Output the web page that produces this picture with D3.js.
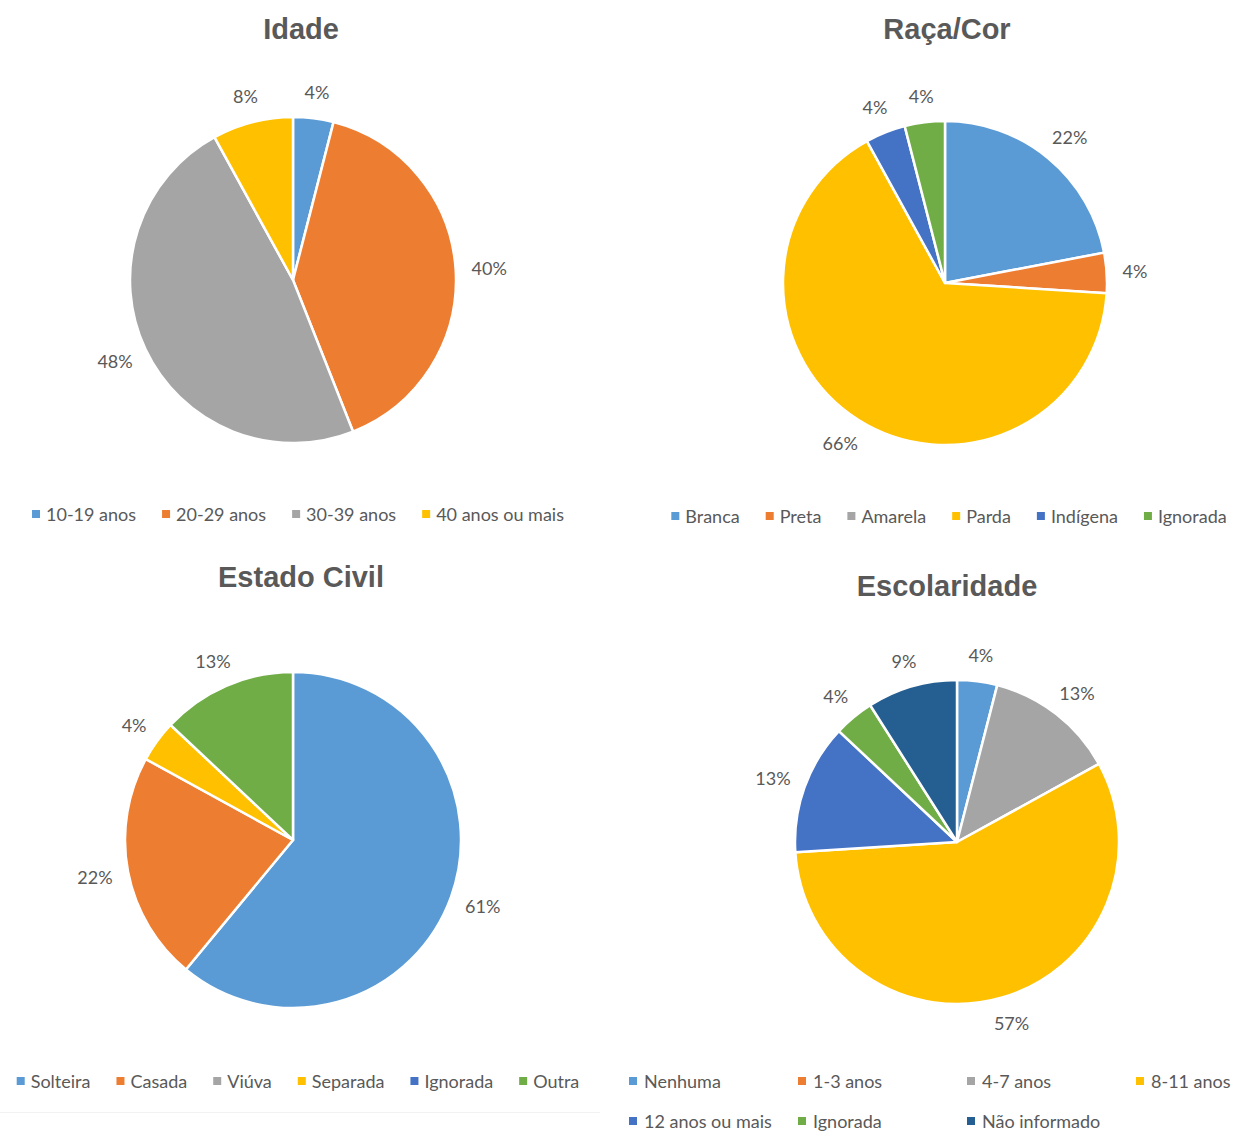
<!DOCTYPE html>
<html><head><meta charset="utf-8">
<script src="https://cdn.jsdelivr.net/npm/d3@7"></script>
<style>
body{margin:0;background:#fff;}
svg{display:block;}
</style></head>
<body>
<svg id="c" width="1240" height="1131"></svg>
<script>
// ---- data ----
const idadeCats = ["10-19 anos","20-29 anos","30-39 anos","40 anos ou mais"];
const idadeVals = [4,40,48,8];
const racaCats = ["Branca","Preta","Amarela","Parda","Indígena","Ignorada"];
const racaVals = [22,4,0,66,4,4];
const civilCats = ["Solteira","Casada","Viúva","Separada","Ignorada","Outra"];
const civilVals = [61,22,0,4,0,13];
const escCats = ["Nenhuma","1-3 anos","4-7 anos","8-11 anos","12 anos ou mais","Ignorada","Não informado"];
const escVals = [4,0,13,57,13,4,9];
const titles = ["Idade","Raça/Cor","Estado Civil","Escolaridade"];

const palette = ["#5B9BD5","#ED7D31","#A5A5A5","#FFC000","#4472C4","#70AD47","#255E91"];

const svg = d3.select("#c");
const lblFont = "Lato, 'Open Sans', sans-serif";
const txtColor = "#595959";

// faint frame line at bottom-left
svg.append("line").attr("x1",0).attr("x2",600).attr("y1",1112.5).attr("y2",1112.5)
  .attr("stroke","#f2f2f2").attr("stroke-width",1);

const charts = [
  {title:titles[0], cats:idadeCats, vals:idadeVals, cx:293, cy:280, r:163, tx:301, ty:29, legend:{type:"flow", cx:298, y:514}},
  {title:titles[1], cats:racaCats, vals:racaVals, cx:945, cy:283, r:162, tx:947, ty:29, legend:{type:"flow", cx:949, y:516}},
  {title:titles[2], cats:civilCats, vals:civilVals, cx:293, cy:840, r:168, tx:301, ty:577, legend:{type:"flow", cx:298, y:1081}},
  {title:titles[3], cats:escCats, vals:escVals, cx:957, cy:842, r:162, tx:947, ty:586, legend:{type:"grid", x0:629, colW:169, cols:4, y:1081, rowH:40}}
];

charts.forEach(ch => {
  const g = svg.append("g");
  g.append("text").attr("x", ch.tx)
    .attr("y", ch.ty).attr("text-anchor","middle").attr("dominant-baseline","central")
    .attr("font-family","'Liberation Sans', Arial, sans-serif").attr("font-weight","bold")
    .attr("font-size",29).attr("fill",txtColor).text(ch.title);

  const data = ch.cats.map((c,i)=>({cat:c, val:ch.vals[i], color:palette[i]}));
  const pie = d3.pie().sort(null).value(d=>d.val);
  const arcs = pie(data);
  const arc = d3.arc().innerRadius(0).outerRadius(ch.r);
  const pg = g.append("g").attr("transform",`translate(${ch.cx},${ch.cy})`);
  pg.selectAll("path").data(arcs.filter(a=>a.data.val>0)).join("path")
    .attr("d",arc).attr("fill",d=>d.data.color)
    .attr("stroke","#fff").attr("stroke-width",2.5).attr("stroke-linejoin","round");

  // labels outside end
  arcs.filter(a=>a.data.val>0).forEach(a=>{
    const th = (a.startAngle+a.endAngle)/2;
    const t = pg.append("text").attr("font-family",lblFont).attr("font-size",18)
      .attr("fill",txtColor).attr("text-anchor","middle").attr("dominant-baseline","central")
      .text(a.data.val+"%");
    const bb = t.node().getBBox();
    const off = ch.r + 16;
    const sx = Math.sin(th), cy = -Math.cos(th);
    const x = off*sx + bb.width/2*sx;
    const y = off*cy + (bb.height/2)*cy;
    t.attr("x",x).attr("y",y);
  });

  // legend
  const lg = g.append("g");
  if (ch.legend.type==="flow"){
    let x = 0;
    data.forEach(d=>{
      const it = lg.append("g");
      it.append("rect").attr("x",0).attr("y",-4).attr("width",8).attr("height",8).attr("fill",d.color);
      const t = it.append("text").attr("x",14).attr("y",0).attr("dominant-baseline","central")
        .attr("font-family",lblFont).attr("font-size",18).attr("fill",txtColor).text(d.cat);
      const w = 14 + t.node().getComputedTextLength();
      it.attr("transform",`translate(${x},${ch.legend.y})`);
      x += w + 26;
    });
    const total = x - 26;
    lg.attr("transform",`translate(${ch.legend.cx - total/2},0)`);
  } else {
    data.forEach((d,i)=>{
      const col = i % ch.legend.cols, row = Math.floor(i/ch.legend.cols);
      const it = lg.append("g").attr("transform",`translate(${ch.legend.x0+col*ch.legend.colW},${ch.legend.y+row*ch.legend.rowH})`);
      it.append("rect").attr("x",0).attr("y",-4).attr("width",8).attr("height",8).attr("fill",d.color);
      it.append("text").attr("x",15).attr("y",0).attr("dominant-baseline","central")
        .attr("font-family",lblFont).attr("font-size",18).attr("fill",txtColor).text(d.cat);
    });
  }
});
</script>
</body></html>
